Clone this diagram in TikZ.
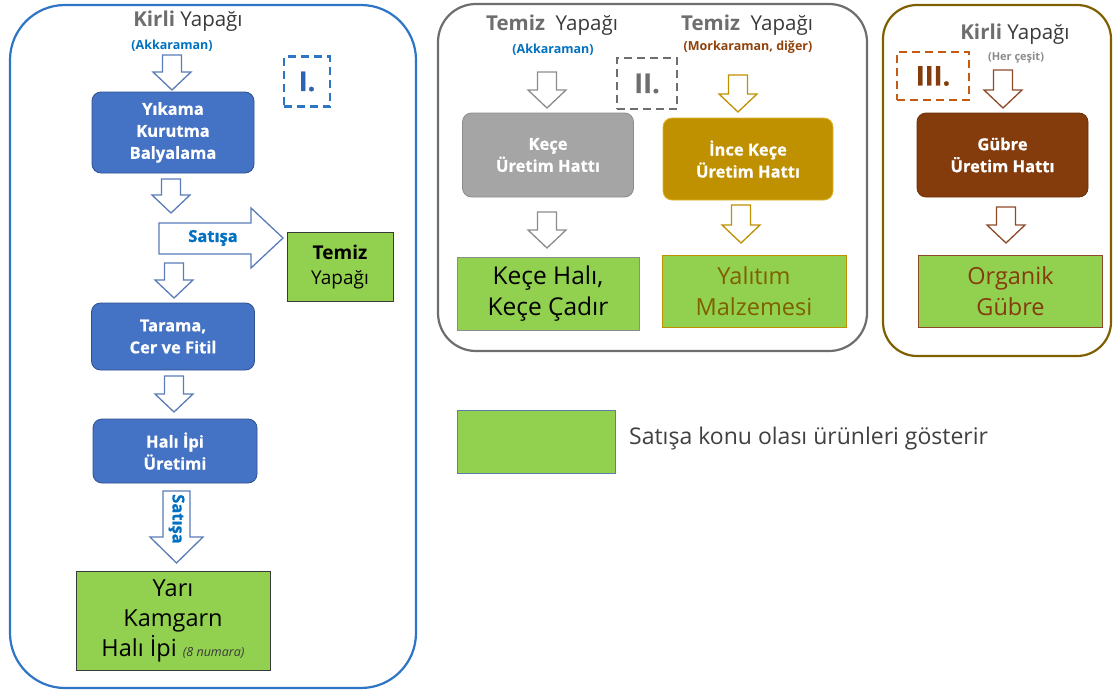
\documentclass[tikz,border=0pt]{standalone}
\usepackage{fontspec}
\setmainfont{Open Sans}
\newfontfamily\heavy{Open Sans}[BoldFeatures={FakeBold=0.7}]
\usetikzlibrary{calc}

\definecolor{panelblue}{HTML}{2E75C6}
\definecolor{boxblue}{HTML}{4472C4}
\definecolor{boxblueline}{HTML}{2F528F}
\definecolor{arrowblue}{HTML}{5A7CB8}
\definecolor{textblue}{HTML}{0070C0}
\definecolor{tagblue}{HTML}{2F62B5}
\definecolor{prodgreen}{HTML}{92D050}
\definecolor{hdgray}{HTML}{6E6E6E}
\definecolor{hddark}{HTML}{3A3A3A}
\definecolor{panelgray}{HTML}{6E6E6E}
\definecolor{boxgray}{HTML}{A5A5A5}
\definecolor{boxgrayline}{HTML}{8C8C8C}
\definecolor{arrowgray}{HTML}{8C8C8C}
\definecolor{boxgold}{HTML}{BF9000}
\definecolor{boxgoldline}{HTML}{E2B42A}
\definecolor{textolive}{HTML}{7F6000}
\definecolor{boxbrown}{HTML}{843C0C}
\definecolor{arrowbrown}{HTML}{8E4A28}
\definecolor{panelolive}{HTML}{7F6000}
\definecolor{dashorange}{HTML}{C55A11}
\definecolor{legendline}{HTML}{5B7FA8}
\definecolor{legendtext}{HTML}{404040}

\tikzset{
  base/.style={inner sep=0pt, align=center},
  procbox/.style={base, rounded corners=9pt, line width=0.8pt, text=white,
    font=\heavy\bfseries\fontsize{16.5}{22}\selectfont},
  bluebox/.style={procbox, fill=boxblue, draw=boxblueline},
  graybox/.style={procbox, fill=boxgray, draw=boxgrayline},
  goldbox/.style={procbox, fill=boxgold, draw=boxgoldline},
  brownbox/.style={procbox, fill=boxbrown, draw=boxbrown!80!black},
  prodbox/.style={base, fill=prodgreen, line width=1pt,
    font=\fontsize{23.5}{30}\selectfont},
  panelbox/.style={line width=2.2pt},
  tagbox/.style={base, line width=2.2pt, dash pattern=on 8pt off 5pt,
    font=\heavy\bfseries\fontsize{27}{30}\selectfont},
  heading/.style={base, text=hddark, font=\fontsize{20.5}{22}\selectfont},
  subhead/.style={base, font=\bfseries\fontsize{12.5}{14}\selectfont},
  saletext/.style={base, text=textblue, font=\heavy\bfseries\fontsize{16.5}{18}\selectfont},
  hollow/.style={line width=1.3pt, fill=white, line join=miter},
}

% hollow block arrow pointing down: name, centre x, top y, tip y, style
\newcommand{\hdown}[5]{%
  \coordinate (#1) at (#2,#3);
  \draw[hollow,#5] ({#2-9.5},#3) -- ({#2+9.5},#3) -- ({#2+9.5},{#4-18})
    -- ({#2+19},{#4-18}) -- (#2,#4) -- ({#2-19},{#4-18})
    -- ({#2-9.5},{#4-18}) -- cycle;}

\begin{document}
\begin{tikzpicture}[x=1pt,y=-1pt]
\useasboundingbox (0,0) rectangle (1113,696);
\fill[white] (0,0) rectangle (1113,696);

% ---------- panel I ----------
\draw[panelbox, draw=panelblue, rounded corners=55pt] (10,5) rectangle (416,688);

\node[heading] (kirliA) at (188,21) {{\bfseries\color{hdgray}Kirli} Yapağı};
\node[subhead, text=textblue] (akkA) at (172,46) {(Akkaraman)};
\node[tagbox, draw=panelblue, text=tagblue, minimum width=46, minimum height=50]
  (tagI) at (307,81.5) {I.};

\hdown{aI1}{172}{55}{90}{draw=arrowblue}
\node[bluebox, minimum width=162, minimum height=81] (wash) at (173,132.5)
  {Yıkama\\Kurutma\\Balyalama};
\hdown{aI2}{171}{179}{213}{draw=arrowblue}

% sale arrow to the right
\coordinate (saleTail) at (159,238);
\draw[hollow, draw=arrowblue]
  (159,223) -- (251,223) -- (251,208) -- (283,238) -- (251,268)
  -- (251,254) -- (159,254) -- cycle;
\node[saletext] (saleR) at (213,238) {Satışa};

\node[prodbox, draw=hddark, minimum width=106, minimum height=69,
  font=\fontsize{19}{25}\selectfont] (clean) at (340,267)
  {{\bfseries Temiz}\\Yapağı};

\hdown{aI3}{174}{263}{298}{draw=arrowblue}
\node[bluebox, minimum width=163, minimum height=67] (comb) at (173,336.5)
  {Tarama,\\Cer ve Fitil};
\hdown{aI4}{174}{376}{412}{draw=arrowblue}
\node[bluebox, minimum width=164, minimum height=64] (yarn) at (175,451)
  {Halı İpi\\Üretimi};

% sale arrow downward
\draw[hollow, draw=arrowblue]
  (163,491) -- (190,491) -- (190,537) -- (203,537) -- (176.5,563)
  -- (150,537) -- (163,537) -- cycle;
\node[saletext, rotate=-90] (saleD) at (176.5,519) {Satışa};

\node[prodbox, draw=hddark, minimum width=194, minimum height=99] (carpet) at (173,620.5)
  {Yarı\\Kamgarn\\Halı İpi {\itshape\fontsize{12.5}{13}\selectfont\color{hddark}(8 numara)}};

% ---------- panel II ----------
\draw[panelbox, draw=panelgray, rounded corners=38pt] (438,4) rectangle (867,351);

\node[heading] (temizL) at (552,25) {{\bfseries\color{hdgray}Temiz}\ \ Yapağı};
\node[subhead, text=textblue] (akkL) at (553,50) {(Akkaraman)};
\node[heading] (temizR) at (747,25) {{\bfseries\color{hdgray}Temiz}\ \ Yapağı};
\node[subhead, text=boxbrown!90!orange] (morR) at (748,47) {(Morkaraman, diğer)};
\node[tagbox, draw=hdgray, text=hdgray, minimum width=60, minimum height=51]
  (tagII) at (647,83.5) {II.};

\hdown{aII1}{547}{72}{108}{draw=arrowgray}
\node[graybox, minimum width=171, minimum height=84] (felt) at (548,155)
  {Keçe\\Üretim Hattı};
\hdown{aII2}{547}{212}{248}{draw=arrowgray}
\node[prodbox, draw=arrowgray, minimum width=182, minimum height=73,
  font=\fontsize{24.5}{31}\selectfont] (feltprod) at (548,293.5)
  {Keçe Halı,\\Keçe Çadır};

\hdown{aII3}{738}{75}{112}{draw=boxgold}
\node[goldbox, minimum width=170, minimum height=82] (fine) at (748,159)
  {İnce Keçe\\Üretim Hattı};
\hdown{aII4}{741}{205}{243}{draw=boxgold}
\node[prodbox, draw=boxgold, text=textolive, minimum width=184, minimum height=72,
  font=\fontsize{23.5}{31}\selectfont] (insul) at (754,291)
  {Yalıtım\\Malzemesi};

% ---------- panel III ----------
\draw[panelbox, draw=panelolive, rounded corners=34pt] (883,5) rectangle (1111,356);

\node[heading] (kirliC) at (1015,34) {{\bfseries\color{hdgray}Kirli} Yapağı};
\node[subhead, text=hdgray!80, font=\bfseries\fontsize{11}{12}\selectfont]
  (herC) at (1016,58) {(Her çeşit)};
\node[tagbox, draw=dashorange, text=boxbrown, minimum width=72, minimum height=48]
  (tagIII) at (933,76) {III.};

\hdown{aIII1}{1003}{70}{108}{draw=arrowbrown}
\node[brownbox, minimum width=171, minimum height=84] (manure) at (1002.5,155)
  {Gübre\\Üretim Hattı};
\hdown{aIII2}{1006}{207}{243}{draw=arrowbrown}
\node[prodbox, draw=arrowbrown, text=boxbrown, minimum width=184, minimum height=72,
  font=\fontsize{23.5}{31}\selectfont] (organic) at (1010.5,291)
  {Organik\\Gübre};

% ---------- legend ----------
\node[base, fill=prodgreen, draw=legendline, line width=0.8pt,
  minimum width=158, minimum height=63] (legbox) at (536,441.5) {};
\node[base, anchor=west, text=legendtext, font=\fontsize{23}{26}\selectfont]
  (legtext) at (629,439) {Satışa konu olası ürünleri gösterir};
\end{tikzpicture}
\end{document}
